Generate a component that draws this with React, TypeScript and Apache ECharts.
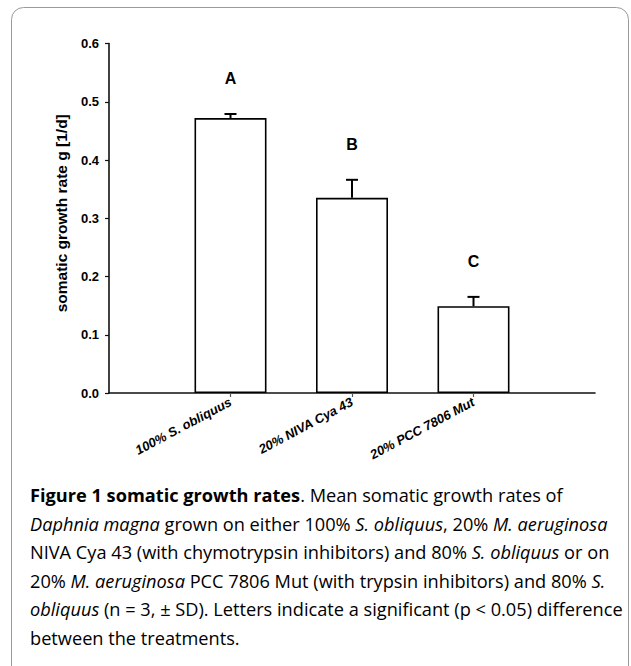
import React, { useEffect, useRef } from "react";
import * as echarts from "echarts";

const categories = ["100% S. obliquus", "20% NIVA Cya 43", "20% PCC 7806 Mut"];
const categoryPositions = [1, 2, 3];
const means = [0.472, 0.335, 0.149];
const sds = [0.007, 0.031, 0.016];
const letters = ["A", "B", "C"];
const yTickLabels = ["0.0", "0.1", "0.2", "0.3", "0.4", "0.5", "0.6"];

const yAxisName = "somatic growth rate g [1/d]";

const captionLines = [
  "{b|Figure 1 somatic growth rates}{n|. Mean somatic growth rates of}",
  "{i|Daphnia magna}{n| grown on either 100% }{i|S. obliquus}{n|, 20% }{i|M. aeruginosa}",
  "{n|NIVA Cya 43 (with chymotrypsin inhibitors) and 80% }{i|S. obliquus}{n| or on}",
  "{n|20% }{i|M. aeruginosa}{n| PCC 7806 Mut (with trypsin inhibitors) and 80% }{i|S.}",
  "{i|obliquus}{n| (n = 3, ± SD). Letters indicate a significant (p < 0.05) difference}",
  "{n|between the treatments.}",
];

export default function App() {
  const ref = useRef<HTMLDivElement>(null);
  useEffect(() => {
    document.body.style.margin = "0";
    if (!ref.current) return;
    const chart = echarts.init(ref.current, null, { renderer: "svg" });
    const capFont = "'Open Sans', 'Noto Sans', sans-serif";
    const capSize = 18.2;
    const rich = {
      b: { fontFamily: capFont, fontSize: capSize, fontWeight: "bold", color: "#1a1a1a" },
      n: { fontFamily: capFont, fontSize: capSize, color: "#1a1a1a" },
      i: { fontFamily: capFont, fontSize: capSize, fontStyle: "italic", color: "#1a1a1a" },
    };
    const captionGraphics = captionLines.map((line, k) => ({
      type: "text",
      left: 30,
      top: 486 + k * 28.6,
      style: { text: line, rich, fontFamily: capFont, fontSize: capSize },
    }));
    const axisFont = "'Liberation Sans', Arial, sans-serif";
    chart.setOption({
      animation: false,
      backgroundColor: "#fff",
      grid: {
        left: 109,
        top: 43.5,
        width: 486,
        height: 349.5,
        containLabel: false,
        outerBoundsMode: "none",
      },
      xAxis: {
        type: "value",
        min: 0,
        max: 4,
        interval: 1,
        splitLine: { show: false },
        axisLine: { show: true, lineStyle: { color: "#111", width: 1.6 } },
        axisTick: {
          show: true,
          length: 4,
          customValues: categoryPositions,
          lineStyle: { color: "#555", width: 1.2 },
        },
        axisLabel: {
          customValues: categoryPositions,
          rotate: 28,
          margin: 8,
          fontFamily: axisFont,
          fontSize: 13,
          fontWeight: "bold",
          fontStyle: "italic",
          color: "#000",
          formatter: (v: number) => {
            const idx = categoryPositions.indexOf(Math.round(v));
            return idx >= 0 ? categories[idx] : "";
          },
        },
      },
      yAxis: {
        type: "value",
        min: 0,
        max: 0.6,
        interval: 0.1,
        name: yAxisName,
        nameLocation: "middle",
        nameGap: 40,
        nameTextStyle: {
          fontFamily: axisFont,
          fontSize: 15.5,
          fontWeight: "bold",
          color: "#000",
          padding: [0, 0, 0, 10],
        },
        splitLine: { show: false },
        axisLine: { show: true, lineStyle: { color: "#111", width: 1.6 } },
        axisTick: { show: true, length: 4, lineStyle: { color: "#111", width: 1.2 } },
        axisLabel: {
          margin: 10,
          fontFamily: axisFont,
          fontSize: 13,
          fontWeight: "bold",
          color: "#000",
          formatter: (v: number) => yTickLabels[Math.round(v * 10)] ?? "",
        },
      },
      series: [
        {
          type: "bar",
          barWidth: 72,
          data: means.map((m, i) => [categoryPositions[i], m]),
          itemStyle: { color: "#fff", borderColor: "#000", borderWidth: 1.6 },
          z: 2,
        },
        {
          type: "custom",
          z: 3,
          data: means.map((m, i) => [categoryPositions[i], m, sds[i], i]),
          renderItem: (params: any, api: any) => {
            const x = api.value(0);
            const m = api.value(1);
            const sd = api.value(2);
            const idx = api.value(3);
            const base = api.coord([x, m]);
            const top = api.coord([x, m + sd]);
            return {
              type: "group",
              children: [
                {
                  type: "line",
                  shape: { x1: base[0], y1: base[1], x2: top[0], y2: top[1] },
                  style: { stroke: "#000", lineWidth: 2 },
                },
                {
                  type: "line",
                  shape: { x1: top[0] - 6, y1: top[1], x2: top[0] + 6, y2: top[1] },
                  style: { stroke: "#000", lineWidth: 2 },
                },
                {
                  type: "text",
                  x: top[0],
                  y: top[1] - 35,
                  style: {
                    text: letters[idx],
                    fontFamily: axisFont,
                    fontSize: 16,
                    fontWeight: "bold",
                    fill: "#000",
                    align: "center",
                    verticalAlign: "middle",
                  },
                },
              ],
            };
          },
        },
      ],
      graphic: [
        {
          type: "rect",
          shape: { x: 11.5, y: 7.5, width: 617, height: 720, r: 12 },
          style: { fill: "none", stroke: "#9a9a9a", lineWidth: 1 },
          silent: true,
          z: -1,
        },
        ...captionGraphics,
      ],
    });
    return () => chart.dispose();
  }, []);
  return <div ref={ref} style={{ width: 631, height: 666 }} />;
}
